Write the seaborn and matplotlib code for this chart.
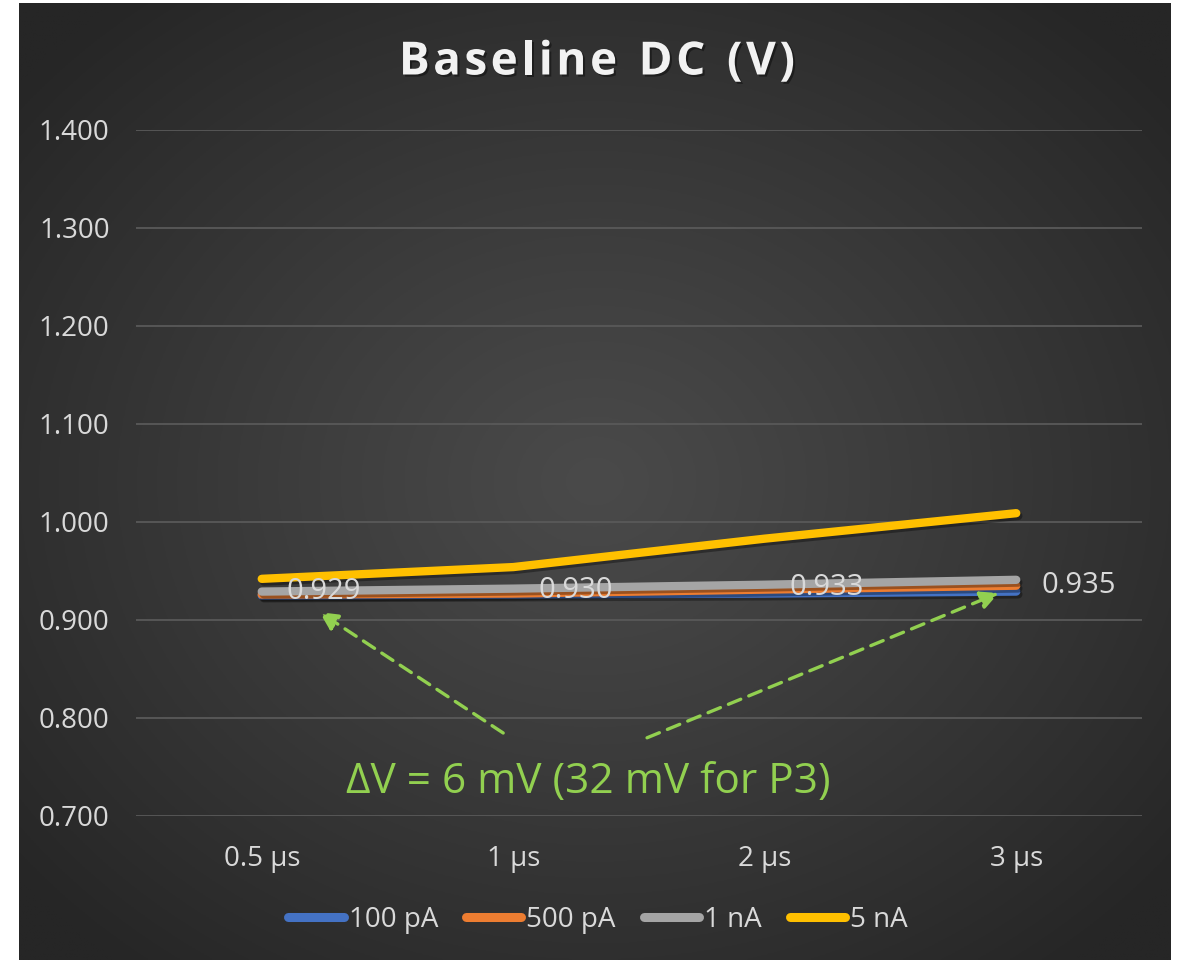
import numpy as np
import pandas as pd
import matplotlib
matplotlib.use("Agg")
import matplotlib.pyplot as plt
import matplotlib.patheffects as pe
import seaborn as sns

# ---- data ----
categories = ["0.5 \u00b5s", "1 \u00b5s", "2 \u00b5s", "3 \u00b5s"]
series_names = ["100 pA", "500 pA", "1 nA", "5 nA"]
vals_100pA = [0.925, 0.926, 0.927, 0.929]
vals_500pA = [0.926, 0.927, 0.931, 0.935]
vals_1nA = [0.929, 0.932, 0.936, 0.941]
vals_5nA = [0.942, 0.954, 0.983, 1.009]
label_values = [0.929, 0.930, 0.933, 0.935]
y_ticks = [0.7, 0.8, 0.9, 1.0, 1.1, 1.2, 1.3, 1.4]
title = "Baseline DC (V)"
note = "\u0394V = 6 mV (32 mV for P3)"

colors = ["#4472C4", "#ED7D31", "#A5A5A5", "#FFC000"]
green = "#92D050"
txt_col = "#D9D9D9"

sns.set_theme(style="dark")
plt.rcParams["font.family"] = ["Open Sans", "DejaVu Sans"]

df = pd.DataFrame({
    "x": categories * 4,
    "series": np.repeat(series_names, 4),
    "y": vals_100pA + vals_500pA + vals_1nA + vals_5nA,
})

W, H = 1178, 960
fig = plt.figure(figsize=(W / 100, H / 100), dpi=100)
fig.patch.set_facecolor("white")

# background panel with radial gradient
bx0, bx1, by0, by1 = 19, 1171, 3, 960
bg = fig.add_axes([bx0 / W, 1 - by1 / H, (bx1 - bx0) / W, (by1 - by0) / H])
gx, gy = np.meshgrid(np.linspace(-1, 1, 400), np.linspace(-1, 1, 400))
r = np.clip(np.sqrt(gx ** 2 + gy ** 2) / 1.3, 0, 1)
c_in, c_out = 0x4A / 255, 0x26 / 255
img = c_in + (c_out - c_in) * r ** 1.1
bg.imshow(np.dstack([img, img, img]), aspect="auto", extent=[0, 1, 0, 1])
bg.set_axis_off()

# main axes
left, right, top, bottom = 136, 1142, 130, 816
ax = fig.add_axes([left / W, 1 - bottom / H, (right - left) / W, (bottom - top) / H])
ax.set_facecolor("none")

sns.lineplot(data=df, x="x", y="y", hue="series", hue_order=series_names,
             palette=colors, linewidth=6, sort=False, ax=ax, legend=True)

for ln in ax.lines:
    ln.set_solid_capstyle("round")
    ln.set_solid_joinstyle("round")
    ln.set_path_effects([pe.SimpleLineShadow(offset=(1.5, -2), shadow_color="black", alpha=0.35),
                         pe.Normal()])

ax.set_xlim(-0.5, 3.5)
ax.set_ylim(0.7, 1.4)
ax.set_yticks(y_ticks)
ax.set_yticklabels([f"{v:.3f}" for v in y_ticks])
ax.set_xticks(range(len(categories)))
ax.set_xticklabels(categories)
ax.tick_params(axis="both", colors=txt_col, labelsize=20, length=0)
ax.tick_params(axis="y", pad=19)
ax.tick_params(axis="x", pad=21)
ax.grid(axis="y", color="#595959", linewidth=1.3)
ax.grid(axis="x", visible=False)
ax.set_axisbelow(True)
for s in ax.spines.values():
    s.set_visible(False)
ax.set_xlabel("")
ax.set_ylabel("")

# data labels
for i, v in enumerate(label_values):
    ax.annotate(f"{v:.3f}", xy=(i, v), xytext=(18, 0), textcoords="offset points",
                ha="left", va="center", color=txt_col, fontsize=21)

# arrows
arrow_kw = dict(arrowstyle="-|>,head_length=0.9,head_width=0.45", color=green,
                lw=2.4, linestyle=(0, (4, 2.6)), shrinkA=0, shrinkB=0)
ax.annotate("", xy=(0.23, 0.908), xycoords="data",
            xytext=(0.365, 0.121), textcoords="axes fraction", arrowprops=arrow_kw)
ax.annotate("", xy=(2.93, 0.9275), xycoords="data",
            xytext=(0.508, 0.114), textcoords="axes fraction", arrowprops=arrow_kw)

ax.text(0.45, 0.05, note, transform=ax.transAxes, ha="center", va="center",
        color=green, fontsize=30.5)

# title with letter tracking (each glyph is real text)
renderer = fig.canvas.get_renderer()
tsize = 33
tracking = 3.5  # px between glyphs
shadow = [pe.withSimplePatchShadow(offset=(1.5, -1.5), shadow_rgbFace="black", alpha=0.4)]
widths = []
for ch in title:
    if ch == " ":
        t = fig.text(0, 0, "x", fontsize=tsize, fontweight="bold")
        w = t.get_window_extent(renderer).width * 0.55
    else:
        t = fig.text(0, 0, ch, fontsize=tsize, fontweight="bold")
        w = t.get_window_extent(renderer).width
    t.remove()
    widths.append(w)
total = sum(widths) + tracking * (len(title) - 1)
xpos = 597 - total / 2
for ch, w in zip(title, widths):
    if ch != " ":
        fig.text(xpos / W, 1 - 62 / H, ch, ha="left", va="center", color="#F2F2F2",
                 fontsize=tsize, fontweight="bold", path_effects=shadow)
    xpos += w + tracking

# legend
handles, labels = ax.get_legend_handles_labels()
for h in handles:
    h.set_linewidth(6.5)
    h.set_solid_capstyle("round")
    h.set_path_effects([])
ax.legend(handles, labels, loc="center", bbox_to_anchor=(598 / W, 1 - 920 / H),
          bbox_transform=fig.transFigure, ncol=4, frameon=False, fontsize=20,
          handlelength=2.0, handletextpad=0.18, columnspacing=1.0, labelcolor=txt_col)

fig.savefig("out.png", dpi=100, facecolor=fig.get_facecolor())
